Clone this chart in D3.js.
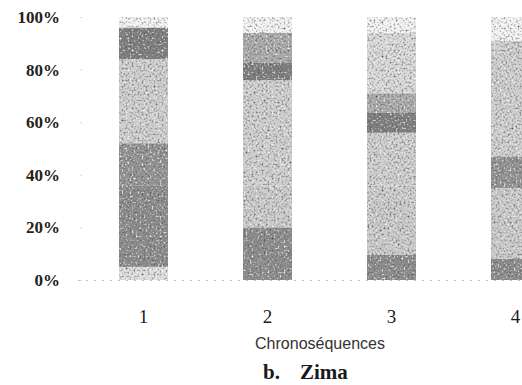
<!DOCTYPE html>
<html>
<head>
<meta charset="utf-8">
<script src="https://cdn.jsdelivr.net/npm/d3@7"></script>
<style>
    body { margin: 0; background: #fff; }
    svg { display: block; }
</style>
</head>
<body>
<svg id="chart"></svg>
<script>
// chronosequences on x
const categories = ['1', '2', '3', '4'];
// percentages per class, stacked bottom -> top (each bar = 100)
const keys = ['k1', 'k2', 'k3', 'k4', 'k5', 'k6', 'k7', 'k8', 'k9'];
const k1 = [5, 0, 0, 0];
const k2 = [31, 20, 9.5, 8];
const k3 = [0, 16, 26.5, 27];
const k4 = [16, 0, 0, 12];
const k5 = [32, 40, 20, 44];
const k6 = [12, 6.5, 7.5, 0];
const k7 = [0, 11.5, 7.5, 0];
const k8 = [0, 0, 23, 0];
const k9 = [4, 6, 6, 9];
const yTicks = [0, 20, 40, 60, 80, 100];

const width = 522;
const height = 385;

const shades = ['#e2e2e2', '#8e8e8e', '#cecece', '#959595', '#d2d2d2', '#808080', '#adadad', '#dcdcdc', '#f6f6f6'];

const seriesValues = [k1, k2, k3, k4, k5, k6, k7, k8, k9];
const rows = categories.map(function (c, i) {
    const r = { cat: c };
    keys.forEach(function (k, j) { r[k] = seriesValues[j][i]; });
    return r;
});

const svg = d3.select('#chart')
    .attr('width', width)
    .attr('height', height);

// scanned-paper grain
const defs = svg.append('defs');
const grain = defs.append('filter')
    .attr('id', 'grain')
    .attr('x', 0).attr('y', 0).attr('width', 1).attr('height', 1);
grain.append('feTurbulence')
    .attr('type', 'fractalNoise')
    .attr('baseFrequency', 0.5)
    .attr('numOctaves', 2)
    .attr('seed', 7)
    .attr('result', 'noise');
grain.append('feColorMatrix')
    .attr('in', 'noise')
    .attr('type', 'matrix')
    .attr('values', '0 0 0 0 0.1  0 0 0 0 0.1  0 0 0 0 0.1  2.6 0 0 0 -1.2')
    .attr('result', 'darkDots');
grain.append('feColorMatrix')
    .attr('in', 'noise')
    .attr('type', 'matrix')
    .attr('values', '0 0 0 0 1  0 0 0 0 1  0 0 0 0 1  0 -3 0 0 1.35')
    .attr('result', 'lightDots');
grain.append('feComposite').attr('in', 'darkDots').attr('in2', 'SourceGraphic').attr('operator', 'in').attr('result', 'd2');
grain.append('feComposite').attr('in', 'lightDots').attr('in2', 'SourceGraphic').attr('operator', 'in').attr('result', 'l2');
const merge = grain.append('feMerge');
merge.append('feMergeNode').attr('in', 'SourceGraphic');
merge.append('feMergeNode').attr('in', 'l2');
merge.append('feMergeNode').attr('in', 'd2');

const x = d3.scaleBand()
    .domain(categories)
    .range([81.5, 577.5])
    .paddingInner(0.605)
    .paddingOuter(0.3025);

const y = d3.scaleLinear()
    .domain([0, 100])
    .range([280, 17]);

const color = d3.scaleOrdinal()
    .domain(keys)
    .range(shades);

const stacked = d3.stack().keys(keys)(rows);

// baseline (faint, dotted like the scan)
svg.append('line')
    .attr('x1', 78).attr('x2', width)
    .attr('y1', y(0) + 0.5).attr('y2', y(0) + 0.5)
    .attr('stroke', '#c4c4c4')
    .attr('stroke-dasharray', '2,6');

const bars = svg.append('g').attr('filter', 'url(#grain)');
bars.selectAll('g')
    .data(stacked)
    .enter()
    .append('g')
    .attr('fill', function (d) { return color(d.key); })
    .selectAll('rect')
    .data(function (d) { return d; })
    .enter()
    .append('rect')
    .attr('x', function (d) { return x(d.data.cat); })
    .attr('y', function (d) { return y(d[1]); })
    .attr('height', function (d) { return y(d[0]) - y(d[1]); })
    .attr('width', x.bandwidth());

const yAxis = d3.axisLeft(y)
    .tickValues(yTicks)
    .tickSize(2)
    .tickPadding(20)
    .tickFormat(function (d) { return d + '%'; });

const gy = svg.append('g')
    .attr('transform', 'translate(82,0)')
    .call(yAxis);
gy.select('.domain').remove();
gy.selectAll('line').attr('stroke', '#d8d8d8');
gy.selectAll('text')
    .attr('font-family', 'Liberation Serif, serif')
    .attr('font-weight', 'bold')
    .attr('font-size', 17)
    .attr('fill', '#222');

const xAxis = d3.axisBottom(x).tickSize(0).tickPadding(30);
const gx = svg.append('g')
    .attr('transform', 'translate(0,' + y(0) + ')')
    .call(xAxis);
gx.select('.domain').remove();
gx.selectAll('text')
    .attr('font-family', 'Liberation Serif, serif')
    .attr('font-size', 19)
    .attr('fill', '#1a1a1a');

svg.append('text')
    .attr('x', 320)
    .attr('y', 349)
    .attr('text-anchor', 'middle')
    .attr('font-family', 'Liberation Sans, sans-serif')
    .attr('font-size', 16)
    .attr('fill', '#333')
    .text('Chronoséquences');

const cap = svg.append('text')
    .attr('x', 263)
    .attr('y', 379)
    .attr('font-family', 'Liberation Serif, serif')
    .attr('font-weight', 'bold')
    .attr('font-size', 21)
    .attr('fill', '#1a1a1a');
cap.append('tspan').text('b.');
cap.append('tspan').attr('dx', 20).text('Zima');
</script>
</body>
</html>
